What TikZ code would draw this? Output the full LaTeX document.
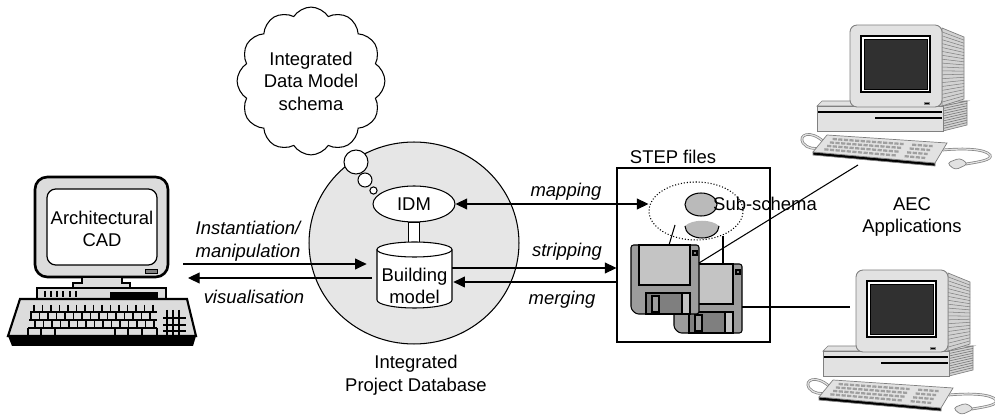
\documentclass[tikz,border=0pt]{standalone}
\usepackage{fontspec}
\setmainfont{Liberation Sans}
\usetikzlibrary{arrows.meta,calc,shapes.geometric,shapes.symbols}

\definecolor{dbfill}{HTML}{E6E6E6}
\definecolor{pcfill}{HTML}{DCDCDC}
\definecolor{wsfill}{HTML}{E2E2E2}
\definecolor{wsside}{HTML}{D2D2D2}
\definecolor{wsline}{HTML}{808080}
\definecolor{wsscreen}{HTML}{303030}
\definecolor{diskgray}{HTML}{9C9C9C}
\definecolor{disklight}{HTML}{C4C4C4}
\definecolor{diskdark}{HTML}{7F7F7F}
\definecolor{subgray}{HTML}{BABABA}

\tikzset{
  lbl/.style={font=\fontsize{10.5}{12.8}\selectfont, align=center, inner sep=0pt},
  ilbl/.style={lbl, font=\fontsize{10.5}{12.8}\selectfont\itshape},
  link/.style={line width=0.6pt},
  arr/.style={link, -{Triangle[length=6.6pt,width=6.2pt]}},
  dblarr/.style={link, {Triangle[length=6.6pt,width=6.2pt]}-{Triangle[length=6.6pt,width=6.2pt]}},
  cable/.style={draw=wsline, double=wsfill, double distance=0.7pt, line width=0.4pt},
  keyrow/.style={draw=gray!75, line width=1.3pt, dash pattern=on 2.4pt off 0.8pt},
  wsline/.style={draw=wsline, line width=0.4pt},
  % desktop workstation, origin at the top-left corner of the monitor front
  workstation/.pic={
    \draw[cable] (-26,117) .. controls (-40,104) and (-52,110) .. (-47,118)
                 .. controls (-43,124) and (-34,124) .. (-30,123);
    \draw[cable] (93,125) .. controls (115,123) and (135,124) .. (140,130)
                 .. controls (143,135) and (128,137) .. (116,139);
    \filldraw[fill=wsfill, wsline, rounded corners=2]
      (97,138) -- (110,133) -- (118,139) -- (105,145) -- cycle;
    % system unit
    \filldraw[fill=wsside, wsline] (93,81) -- (117,76) -- (117,100) -- (93,106) -- cycle;
    \foreach \t in {0.1,0.2,...,0.95}
      \draw[wsline] (93,{81+25*\t}) -- (117,{76+24*\t});
    \filldraw[fill=wsfill, wsline] (-33,81) -- (-28,76) -- (117,76) -- (93,81) -- cycle;
    \filldraw[fill=wsfill, wsline] (-33,81) rectangle (93,106);
    \draw[line width=0.9pt] (-32,87) -- (92,87);
    \draw[line width=0.6pt] (25,93) -- (92,93);
    \draw[line width=1.6pt] (25,93) -- (50,93);
    % monitor
    \filldraw[fill=wsside, wsline] (92,3) -- (114,12) -- (114,74) -- (92,81) -- cycle;
    \foreach \t in {0.05,0.1,...,0.97}
      \draw[wsline, line width=0.3pt] (92,{3+78*\t}) -- (114,{12+62*\t});
    \filldraw[fill=wsfill, wsline, line width=0.5pt, rounded corners=4] (0,0) rectangle (92,82);
    \filldraw[fill=white, draw=black, line width=1.1pt] (11,11) rectangle (80,67);
    \filldraw[fill=wsscreen, draw=black, line width=0.5pt] (14,14) rectangle (77,64);
    \fill[wsline] (74,77) rectangle (79,79);
    % keyboard
    \fill[wsline] (-37,127) -- (85,138) -- (85,141) -- (-37,130) -- cycle;
    \filldraw[fill=wsfill, wsline] (-23,110) -- (97,118) -- (85,138) -- (-37,127) -- cycle;
    \foreach \f in {0.2,0.4,0.6,0.8} {
      \draw[keyrow] ($({-23-14*\f},{110+17*\f})!0.07!({97-12*\f},{118+20*\f})$)
                 -- ($({-23-14*\f},{110+17*\f})!0.66!({97-12*\f},{118+20*\f})$);
      \draw[keyrow] ($({-23-14*\f},{110+17*\f})!0.73!({97-12*\f},{118+20*\f})$)
                 -- ($({-23-14*\f},{110+17*\f})!0.9!({97-12*\f},{118+20*\f})$);
    }
  },
  % floppy disk, origin at its top-left corner
  floppy/.pic={
    \node[minimum width=1.36cm, minimum height=1.38cm, inner sep=0pt, outer sep=0pt] (-body) at (34,34.5) {};
    \filldraw[fill=diskgray, link, rounded corners=1.5] (0,0) -- (68,0) -- (68,69) -- (5,69) -- (0,64) -- cycle;
    \filldraw[fill=disklight, link] (8,0) rectangle (59,40);
    \filldraw[fill=diskdark, link] (62,6) rectangle (66,10);
    \filldraw[fill=diskdark, link] (15,48) rectangle (59,69);
    \filldraw[fill=diskgray, link] (21,51) rectangle (28,67);
    \filldraw[fill=disklight, link] (51,48) rectangle (59,69);
  }
}

\begin{document}
\begin{tikzpicture}[x=0.02cm, y=-0.02cm]
\useasboundingbox (0,0) rectangle (995,418);

% ---------------- integrated project database ----------------
\node[ellipse, draw, fill=dbfill, link, minimum width=4.2cm, minimum height=4.04cm, inner sep=0pt] (ipdb) at (414,243) {};
\node[lbl] (ipdbtxt) at (416,375) {Integrated\\Project Database};

% thought cloud with the schema
\node[cloud, draw, fill=white, link, cloud puffs=12, cloud puff arc=115, aspect=1,
      minimum width=2.84cm, minimum height=2.84cm, inner sep=0pt, lbl] (schema) at (311,81)
      {Integrated\\Data Model\\schema};
\filldraw[fill=white, link] (356,162) circle[radius=12];
\filldraw[fill=white, link] (365,180) circle[radius=7];
\filldraw[fill=white, link] (373.5,190.5) circle[radius=3.6];

% IDM and the building model
\node[ellipse, draw, fill=white, link, minimum width=1.64cm, minimum height=0.72cm, inner sep=0pt, lbl] (idm) at (414,204) {IDM};
\filldraw[fill=white, link] ($(idm.south)+(-5.5,0)$) rectangle ($(idm.south)+(5.5,20)$);
\filldraw[fill=white, link] (377,249.5) -- (377,300) arc[start angle=180, end angle=0, x radius=37.5, y radius=8]
  -- (452,249.5) arc[start angle=0, end angle=-180, x radius=37.5, y radius=7.5] -- cycle;
\draw[link] (377,249.5) arc[start angle=180, end angle=0, x radius=37.5, y radius=7.5];
\node[minimum width=1.5cm, minimum height=1.0cm, inner sep=0pt] (bmbody) at (414.5,275) {};
\node[lbl] (bm) at (414.5,286) {Building\\model};

% ---------------- architectural CAD workstation ----------------
\filldraw[fill=pcfill, line width=1.5pt, rounded corners=7] (35,177) rectangle (168,277);
\filldraw[fill=white, line width=0.7pt, rounded corners=5] (47,189) rectangle (157,265);
\node[lbl] (cad) at (102,229) {Architectural\\CAD};
\filldraw[fill=gray, line width=0.4pt] (145,269) rectangle (157,273);
\filldraw[fill=pcfill, line width=1pt] (82,277) -- (122,277) -- (122,283) -- (130,283) -- (130,288)
  -- (73,288) -- (73,283) -- (82,283) -- cycle;
\filldraw[fill=pcfill, line width=1pt] (37,288) rectangle (166,299);
\fill (110,292) rectangle (158,299);
\foreach \x in {45,51,57,63,70,76} \draw[line width=0.8pt] (\x,291) -- (\x,297);
\fill (8,336) -- (196,336) -- (193,346) -- (12,346) -- cycle;
\filldraw[fill=pcfill, line width=1.2pt] (20,299) -- (187,299) -- (196,336) -- (8,336) -- cycle;
\foreach \x in {34,42.5,...,157} \draw[line width=0.7pt] (\x,305) -- (\x,311);
\draw[line width=0.8pt] (30,312) -- (157,312) (29,320) -- (157,320) (28,328) -- (157,328);
\foreach \x in {31,39.5,...,157} \draw[line width=0.7pt] (\x,312) -- (\x,320);
\foreach \x in {35,43.5,...,157} \draw[line width=0.7pt] (\x,320) -- (\x,328);
\foreach \x in {28,41,55,115,128,142,157} \draw[line width=0.7pt] (\x,328) -- (\x,336);
\foreach \x in {167,173,179} \draw[line width=0.8pt] (\x,310) -- (\x,336);
\foreach \y in {318,325,331} \draw[line width=0.8pt] (163,\y) -- (186,\y);

% ---------------- CAD <-> building model ----------------
\coordinate (instL) at (183,264);
\coordinate (visL) at (188,278);
\draw[arr] (instL) -- ($(bmbody.west |- instL)+(-10,0)$);
\draw[arr] ($(bmbody.west |- visL)+(-5,0)$) -- (visL);
\node[ilbl, align=left] (instlbl) at (248,241) {Instantiation/\\manipulation};
\node[ilbl] (vislbl) at (254,297) {visualisation};

% ---------------- STEP files ----------------
\node[draw, link, minimum width=3.06cm, minimum height=3.48cm, inner sep=0pt] (stepbox) at (693.5,255) {};
\node[lbl] (steplbl) at (673,157) {STEP files};
\fill[subgray] (685,226) arc[start angle=180, end angle=0, x radius=17, y radius=12]
  .. controls (712,219) and (692,219) .. (685,226);
\draw[link] (685,226) arc[start angle=180, end angle=0, x radius=17, y radius=12];
\filldraw[fill=subgray, link] (701,204.5) ellipse[x radius=16, y radius=11.5];
\node[ellipse, draw, link, dash pattern=on 0.6pt off 1.1pt, minimum width=1.88cm, minimum height=1.16cm, inner sep=0pt] (subell) at (696,211) {};
\pic (bd) at (674,264) {floppy};
\pic (fd) at (631,245) {floppy};
\coordinate (lk1) at (675,225);
\coordinate (lk2) at (723,236);
\draw[link] (lk1) -- ($(fd-body.north)+(4,0)$);
\draw[link] (lk2) -- (lk2 |- bd-body.north);
\node[lbl] (sublbl) at (765,204) {Sub-schema};

% ---------------- database <-> STEP files ----------------
\draw[dblarr] (idm.east) -- (subell.west |- idm.east);
\draw[arr] (bmbody.east |- 0,268) -- (stepbox.west |- 0,268);
\draw[arr] (stepbox.west |- 0,282) -- ($(bmbody.east |- 0,282)+(1,0)$);
\node[ilbl] (maplbl) at (566,192) {mapping};
\node[ilbl] (striplbl) at (567,252) {stripping};
\node[ilbl] (mergelbl) at (562,300) {merging};

% ---------------- AEC applications ----------------
\pic at (850,25) {workstation};
\pic at (856,270) {workstation};
\coordinate (aecTop) at (858,165);
\coordinate (aecBot) at (850,307);
\draw[link] (fd-body.east |- 0,263) -- (aecTop);
\draw[link] (bd-body.east |- 0,307) -- (aecBot);
\node[lbl] (aec) at (912,217) {AEC\\Applications};

\end{tikzpicture}
\end{document}
